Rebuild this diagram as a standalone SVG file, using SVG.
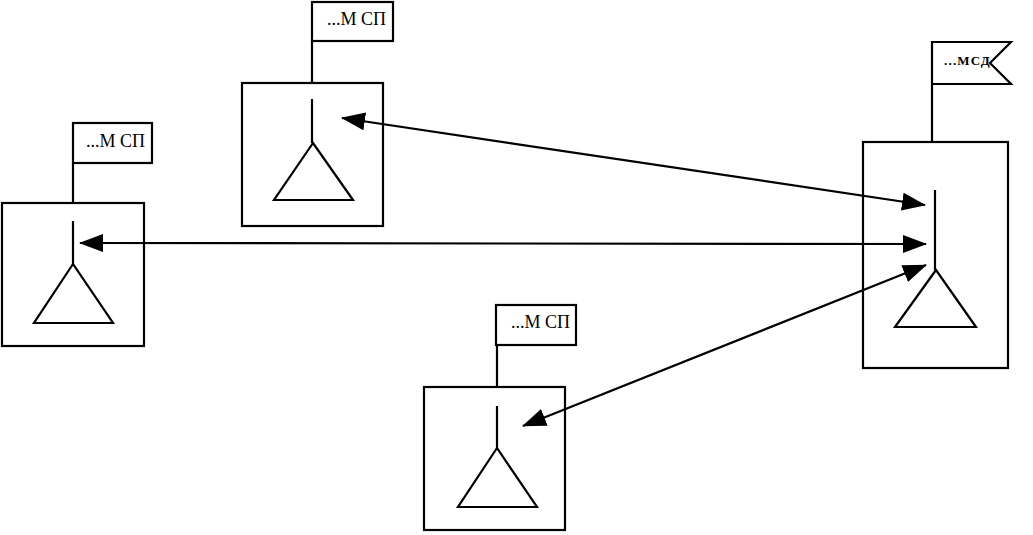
<svg xmlns="http://www.w3.org/2000/svg" width="1033" height="535" viewBox="0 0 1033 535">
<style>
.s{fill:none;stroke:#000;stroke-width:2.2}
.a{fill:none;stroke:#000;stroke-width:2.2}
text{font-family:"Liberation Serif","Times New Roman",serif;fill:#000;font-size:18px}
.k{font-size:13px;font-weight:bold;letter-spacing:1.2px}
</style>
<defs>
<marker id="h" viewBox="0 0 24 18" refX="23" refY="9" markerWidth="24" markerHeight="18" markerUnits="userSpaceOnUse" orient="auto-start-reverse">
<path d="M0 0L24 9L0 18Z" fill="#000"/>
</marker>
</defs>
<rect width="1033" height="535" fill="#fff"/>
<g id="node-top">
<rect class="s" x="242" y="83" width="141" height="143"/>
<rect class="s" x="312" y="2" width="81" height="39"/>
<path class="s" d="M312 41V83M312 99V143M313 143L274 200H353Z"/>
<text x="327" y="25">...М СП</text>
</g>
<g id="node-left">
<rect class="s" x="2" y="203" width="142" height="143"/>
<rect class="s" x="73" y="123" width="79" height="40"/>
<path class="s" d="M73 163V203M73 221V264M73 264L34 323H113Z"/>
<text x="86" y="147">...М СП</text>
</g>
<g id="node-bottom">
<rect class="s" x="424" y="387" width="141" height="143"/>
<rect class="s" x="496" y="305" width="80" height="40"/>
<path class="s" d="M497 345V387M497 406V448M497 448L458 507H537Z"/>
<text x="511" y="328">...М СП</text>
</g>
<g id="node-right">
<rect class="s" x="863" y="142" width="145" height="226"/>
<path class="s" d="M932 142V42H1011L990 63L1011 84H932"/>
<path class="s" d="M935 190V270M936 270L895 327H976Z"/>
<text class="k" x="944" y="65">...МСД</text>
</g>
<g id="connectors">
<line class="a" x1="342" y1="118" x2="925" y2="205" marker-start="url(#h)" marker-end="url(#h)"/>
<line class="a" x1="80" y1="243" x2="926" y2="244" marker-start="url(#h)" marker-end="url(#h)"/>
<line class="a" x1="523" y1="426" x2="926" y2="265" marker-start="url(#h)" marker-end="url(#h)"/>
</g>
</svg>
